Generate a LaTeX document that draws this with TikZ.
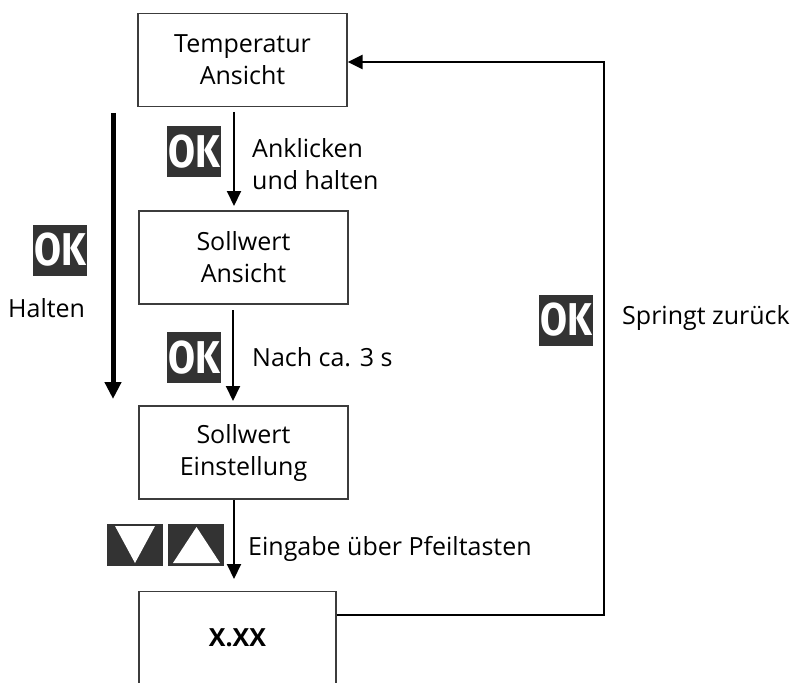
\documentclass[tikz,border=0pt]{standalone}
\usepackage{fontspec}
\setmainfont{Open Sans}
\newfontfamily\okfont{Fira Sans}[UprightFont=* Bold]
\usetikzlibrary{arrows.meta}
\definecolor{badge}{RGB}{51,51,51}
\definecolor{boxline}{RGB}{60,60,60}
\tikzset{
  stepbox/.style={draw=boxline, line width=1.3pt, minimum width=209pt, minimum height=93pt,
    align=center, font=\fontsize{25}{32}\selectfont, inner sep=0pt},
  arr/.style={draw=black, line width=2pt, -{Triangle[width=14pt,length=15pt]}},
  bigarr/.style={draw=black, line width=5pt, -{Triangle[width=16pt,length=17pt]}},
  fbline/.style={draw=black, line width=2.6pt, -{Triangle[width=14pt,length=15pt]}},
  okbadge/.style={fill=badge, text=white, minimum width=54pt, minimum height=51pt, inner sep=0pt,
    font=\okfont\fontsize{46}{46}\selectfont},
  keybox/.style={fill=badge, minimum width=56pt, minimum height=42pt, inner sep=0pt},
  lbl/.style={anchor=west, align=left, inner sep=0pt, font=\fontsize{25}{32}\selectfont},
}
\begin{document}
\begin{tikzpicture}[x=1pt,y=-1pt]
\useasboundingbox[fill=white] (0,0) rectangle (794,682);
\clip (0,0) rectangle (794,682);
% boxes
\node[stepbox] (b1) at (242.5,60) {Temperatur\\Ansicht};
\node[stepbox] (b2) at (243.5,257.5) {Sollwert\\Ansicht};
\node[stepbox] (b3) at (243.5,452.5) {Sollwert\\Einstellung};
\node[draw=boxline, line width=1.3pt, minimum width=197pt, minimum height=130pt, inner sep=0pt,
  anchor=north] (b4) at (237.5,591) {};
\node[font=\bfseries\fontsize{25}{28}\selectfont, inner sep=0pt] (b4t) at (237.5,638) {X.XX};
% vertical arrows
\coordinate (a1s) at (234,112);
\coordinate (a1e) at (234,206);
\coordinate (a2s) at (233,310);
\coordinate (a2e) at (233,401);
\coordinate (a3s) at (234,500);
\coordinate (a3e) at (234,579);
\draw[arr] (a1s) -- (a1e);
\draw[arr] (a2s) -- (a2e);
\draw[arr] (a3s) -- (a3e);
% big hold arrow
\coordinate (hs) at (113,113);
\coordinate (he) at (113,399);
\draw[bigarr] (hs) -- (he);
% feedback
\coordinate (fs) at (b4.north east |- 0,615);
\coordinate (fc1) at (604,615);
\coordinate (fc2) at (604,62);
\draw[fbline] (fs) -- (fc1) -- (fc2) -- (b1.east |- fc2);
% OK badges
\node[okbadge] (ok1) at (194,151.5) {\scalebox{0.85}[1]{OK}};
\node[okbadge] (ok2) at (60,250) {\scalebox{0.85}[1]{OK}};
\node[okbadge] (ok3) at (194,357.5) {\scalebox{0.85}[1]{OK}};
\node[okbadge] (ok4) at (566,320) {\scalebox{0.85}[1]{OK}};
% arrow keys
\node[keybox] (kdown) at (135,545) {};
\node[keybox] (kup) at (196,545) {};
\fill[white] (115,526) -- (155,526) -- (135,563) -- cycle;
\fill[white] (173,563) -- (220,563) -- (196.5,527) -- cycle;
% labels
\node[lbl] (l1) at (252,164) {Anklicken\\und halten};
\node[lbl] (l2) at (8,308) {Halten};
\node[lbl] (l3) at (252,357) {Nach ca. 3 s};
\node[lbl] (l4) at (248,549) {Eingabe über Pfeiltasten};
\node[lbl] (l5) at (622,318) {Springt zurück};
\end{tikzpicture}
\end{document}
